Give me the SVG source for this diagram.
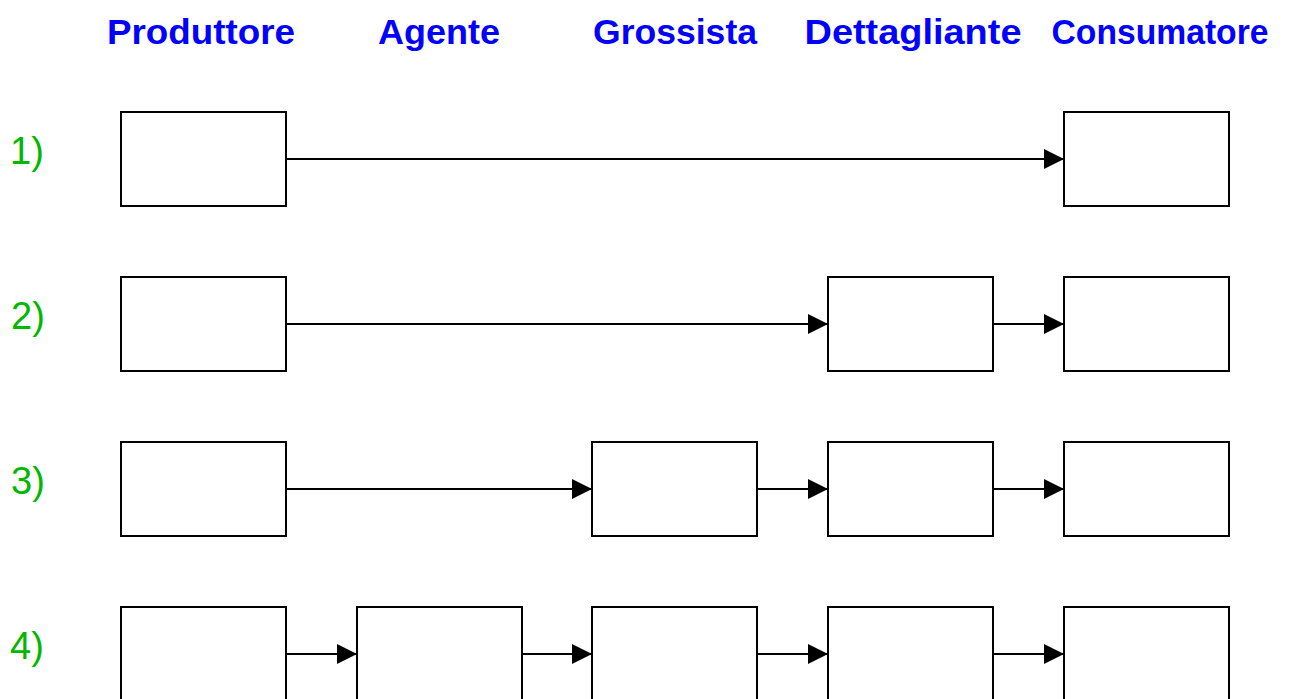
<svg xmlns="http://www.w3.org/2000/svg" width="1289" height="699" viewBox="0 0 1289 699">
  <style>
    .hdr { font-family: "Comic Sans MS", "Liberation Sans", sans-serif; font-weight: bold; font-size: 35px; fill: #0000ff; text-anchor: middle; }
    .num { font-family: "Comic Sans MS", "Liberation Sans", sans-serif; font-size: 38px; fill: #00b800; }
    .box { fill: #ffffff; stroke: #000000; stroke-width: 2; }
    .link { fill: none; stroke: #000000; stroke-width: 2; marker-end: url(#arrow); }
  </style>
  <defs>
    <marker id="arrow" markerWidth="20" markerHeight="20" refX="20" refY="10" orient="auto" markerUnits="userSpaceOnUse">
      <path d="M0,0 L20,10 L0,20 Z" fill="#000000"/>
    </marker>
  </defs>
  <rect width="1289" height="699" fill="#ffffff"/>

  <!-- column headings -->
  <g id="headers">
    <text class="hdr" x="201" y="44" textLength="188" lengthAdjust="spacingAndGlyphs">Produttore</text>
    <text class="hdr" x="439" y="44" textLength="122" lengthAdjust="spacingAndGlyphs">Agente</text>
    <text class="hdr" x="675" y="44" textLength="164" lengthAdjust="spacingAndGlyphs">Grossista</text>
    <text class="hdr" x="913" y="44" textLength="217" lengthAdjust="spacingAndGlyphs">Dettagliante</text>
    <text class="hdr" x="1160" y="44" textLength="217" lengthAdjust="spacingAndGlyphs">Consumatore</text>
  </g>

  <!-- row numbers -->
  <g id="labels">
    <text class="num" x="10" y="164">1)</text>
    <text class="num" x="11" y="329">2)</text>
    <text class="num" x="11" y="494">3)</text>
    <text class="num" x="10" y="659">4)</text>
  </g>

  <!-- row 1 -->
  <g id="r1-produttore"><rect class="box" x="121" y="112" width="165" height="94"/></g>
  <g id="r1-consumatore"><rect class="box" x="1064" y="112" width="165" height="94"/></g>

  <!-- row 2 -->
  <g id="r2-produttore"><rect class="box" x="121" y="277" width="165" height="94"/></g>
  <g id="r2-dettagliante"><rect class="box" x="828" y="277" width="165" height="94"/></g>
  <g id="r2-consumatore"><rect class="box" x="1064" y="277" width="165" height="94"/></g>

  <!-- row 3 -->
  <g id="r3-produttore"><rect class="box" x="121" y="442" width="165" height="94"/></g>
  <g id="r3-grossista"><rect class="box" x="592" y="442" width="165" height="94"/></g>
  <g id="r3-dettagliante"><rect class="box" x="828" y="442" width="165" height="94"/></g>
  <g id="r3-consumatore"><rect class="box" x="1064" y="442" width="165" height="94"/></g>

  <!-- row 4 -->
  <g id="r4-produttore"><rect class="box" x="121" y="607" width="165" height="94"/></g>
  <g id="r4-agente"><rect class="box" x="357" y="607" width="165" height="94"/></g>
  <g id="r4-grossista"><rect class="box" x="592" y="607" width="165" height="94"/></g>
  <g id="r4-dettagliante"><rect class="box" x="828" y="607" width="165" height="94"/></g>
  <g id="r4-consumatore"><rect class="box" x="1064" y="607" width="165" height="94"/></g>

  <!-- connectors -->
  <g id="connectors">
    <line class="link" x1="286" y1="159" x2="1064" y2="159"/>

    <line class="link" x1="286" y1="324" x2="828" y2="324"/>
    <line class="link" x1="993" y1="324" x2="1064" y2="324"/>

    <line class="link" x1="286" y1="489" x2="592" y2="489"/>
    <line class="link" x1="757" y1="489" x2="828" y2="489"/>
    <line class="link" x1="993" y1="489" x2="1064" y2="489"/>

    <line class="link" x1="286" y1="654" x2="357" y2="654"/>
    <line class="link" x1="522" y1="654" x2="592" y2="654"/>
    <line class="link" x1="757" y1="654" x2="828" y2="654"/>
    <line class="link" x1="993" y1="654" x2="1064" y2="654"/>
  </g>
</svg>
